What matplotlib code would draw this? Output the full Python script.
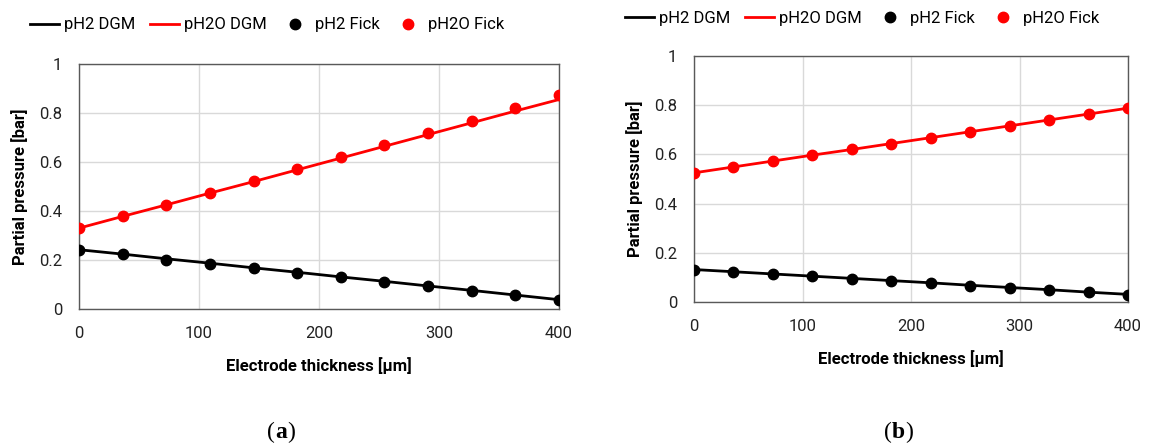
import matplotlib.pyplot as plt
from matplotlib.ticker import FuncFormatter

# electrode thickness positions [um]
x = [0, 36.4, 72.7, 109.1, 145.5, 181.8, 218.2, 254.5, 290.9, 327.3, 363.6, 400]

# panel (a)
a_h2_dgm = [0.242, 0.224, 0.205, 0.187, 0.168, 0.150, 0.131, 0.113, 0.094, 0.076, 0.057, 0.038]
a_h2o_dgm = [0.330, 0.378, 0.425, 0.473, 0.520, 0.568, 0.616, 0.664, 0.712, 0.760, 0.808, 0.855]
a_h2_fick = [0.241, 0.223, 0.202, 0.185, 0.166, 0.148, 0.129, 0.111, 0.092, 0.075, 0.056, 0.037]
a_h2o_fick = [0.329, 0.378, 0.426, 0.473, 0.522, 0.570, 0.619, 0.669, 0.720, 0.769, 0.819, 0.873]

# panel (b)
b_h2_dgm = [0.132, 0.123, 0.114, 0.105, 0.096, 0.087, 0.078, 0.068, 0.059, 0.050, 0.040, 0.031]
b_h2o_dgm = [0.525, 0.549, 0.573, 0.597, 0.620, 0.644, 0.668, 0.692, 0.716, 0.740, 0.764, 0.788]
b_h2_fick = [0.132, 0.123, 0.114, 0.104, 0.095, 0.087, 0.077, 0.066, 0.058, 0.050, 0.039, 0.030]
b_h2o_fick = [0.525, 0.550, 0.574, 0.597, 0.621, 0.644, 0.668, 0.693, 0.716, 0.739, 0.763, 0.790]

plt.rcParams['font.family'] = ['Roboto', 'DejaVu Sans']

fig = plt.figure(figsize=(11.75, 4.45), dpi=100)
W, H = 1175, 445


def make_panel(box, h2_dgm, h2o_dgm, h2_fick, h2o_fick, letter, cap_x, leg_x, leg_y):
    l, t, r, b = box
    ax = fig.add_axes([l / W, 1 - b / H, (r - l) / W, (b - t) / H])
    ax.plot(x, h2_dgm, color='black', lw=2, label='pH2 DGM', zorder=3)
    ax.plot(x, h2o_dgm, color='#ff0000', lw=2, label='pH2O DGM', zorder=3)
    ax.plot(x, h2_fick, 'o', color='black', ms=7.5, label='pH2 Fick', zorder=4)
    ax.plot(x, h2o_fick, 'o', color='#ff0000', ms=7.5, label='pH2O Fick', zorder=4)
    ax.set_xlim(0, 400)
    ax.set_ylim(0, 1)
    ax.set_xticks([0, 100, 200, 300, 400])
    ax.set_yticks([0, 0.2, 0.4, 0.6, 0.8, 1])
    ax.yaxis.set_major_formatter(FuncFormatter(lambda v, p: '%g' % round(v, 1)))
    ax.grid(True, color='#d9d9d9', lw=1)
    ax.set_axisbelow(True)
    for s in ax.spines.values():
        s.set_color('#595959')
        s.set_linewidth(1)
    ax.tick_params(length=0, labelsize=12, colors='#222222', pad=12)
    ax.set_xlabel('Electrode thickness [\u03bcm]', fontsize=12, fontweight='bold', labelpad=12)
    ax.set_ylabel('Partial pressure [bar]', fontsize=12, fontweight='bold', labelpad=8)
    ax.legend(loc='center left', bbox_to_anchor=(leg_x / W, 1 - leg_y / H),
              bbox_transform=fig.transFigure, ncol=4, frameon=False, fontsize=12,
              borderpad=0, borderaxespad=0, handlelength=1.75, handletextpad=0.3,
              columnspacing=0.85)
    # caption "(a)" with bold letter, pieces chained one after another
    cy = 1 - 432 / H
    t1 = fig.text(cap_x / W, cy, '(', ha='right', va='center', fontsize=17,
                  family='Liberation Serif')
    t2 = fig.text(cap_x / W, cy, letter, ha='left', va='center', fontsize=17,
                  family='Liberation Serif', fontweight='bold')
    fig.text(0, 0, ')', fontsize=17, family='Liberation Serif', va='center', ha='left',
             transform=t2.get_transform()).set_position((cap_x / W, cy))
    return ax, t2


ax_a, ta = make_panel((79, 64, 559, 309), a_h2_dgm, a_h2o_dgm, a_h2_fick, a_h2o_fick, 'a', 275, 30, 25)
ax_b, tb = make_panel((694, 56, 1128, 302), b_h2_dgm, b_h2o_dgm, b_h2_fick, b_h2o_fick, 'b', 892, 625, 18)

# shift the closing brackets to sit right after the bold letters
fig.canvas.draw()
rend = fig.canvas.get_renderer()
for t_letter in (ta, tb):
    bb = t_letter.get_window_extent(rend)
    idx = fig.texts.index(t_letter)
    closing = fig.texts[idx + 1]
    closing.set_position((bb.x1 / W, closing.get_position()[1]))

fig.savefig('out.png', dpi=100)
